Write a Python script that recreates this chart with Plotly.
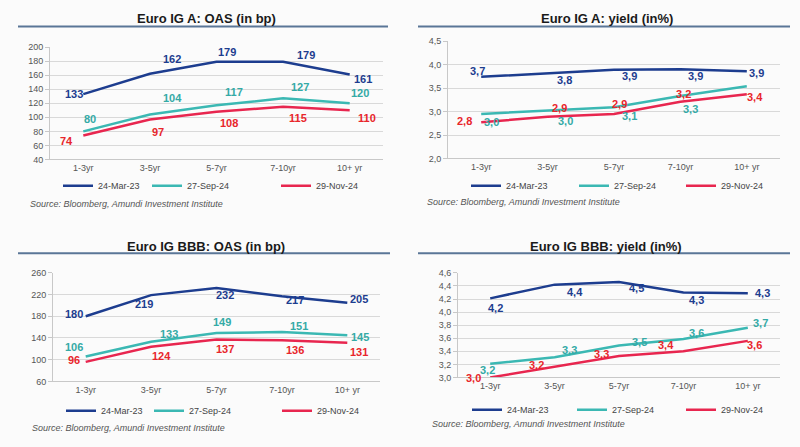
import plotly.graph_objects as go

categories = ["1-3yr", "3-5yr", "5-7yr", "7-10yr", "10+ yr"]
series_names = ["24-Mar-23", "27-Sep-24", "29-Nov-24"]

# Panel 1: Euro IG A OAS (bp)
a_oas_mar23 = [133, 162, 179, 179, 161]
a_oas_sep24 = [80, 104, 117, 127, 120]
a_oas_nov24 = [74, 97, 108, 115, 110]
a_oas_labels = [["133", "162", "179", "179", "161"],
                ["80", "104", "117", "127", "120"],
                ["74", "97", "108", "115", "110"]]

# Panel 2: Euro IG A yield (%)
a_yld_mar23 = [3.74, 3.82, 3.89, 3.90, 3.86]
a_yld_sep24 = [2.95, 3.02, 3.09, 3.33, 3.54]
a_yld_nov24 = [2.77, 2.89, 2.95, 3.21, 3.37]
a_yld_labels = [["3,7", "3,8", "3,9", "3,9", "3,9"],
                ["3,0", "3,0", "3,1", "3,3", ""],
                ["2,8", "2,9", "2,9", "3,2", "3,4"]]

# Panel 3: Euro IG BBB OAS (bp)
b_oas_mar23 = [180, 219, 232, 217, 205]
b_oas_sep24 = [106, 133, 149, 151, 145]
b_oas_nov24 = [96, 124, 137, 136, 131]
b_oas_labels = [["180", "219", "232", "217", "205"],
                ["106", "133", "149", "151", "145"],
                ["96", "124", "137", "136", "131"]]

# Panel 4: Euro IG BBB yield (%)
b_yld_mar23 = [4.21, 4.42, 4.46, 4.30, 4.29]
b_yld_sep24 = [3.21, 3.31, 3.49, 3.59, 3.76]
b_yld_nov24 = [3.00, 3.16, 3.33, 3.40, 3.56]
b_yld_labels = [["4,2", "4,4", "4,5", "4,3", "4,3"],
                ["3,2", "3,3", "3,5", "3,6", "3,7"],
                ["3,0", "3,2", "3,3", "3,4", "3,6"]]

titles = ["Euro IG A: OAS (in bp)", "Euro IG A: yield (in%)",
          "Euro IG BBB: OAS (in bp)", "Euro IG BBB: yield (in%)"]
source_text = "Source: Bloomberg, Amundi Investment Institute"

# ---------------- styling / layout -----------------
W, H = 800, 447
line_colors = ["#1d3d8f", "#3bb8b3", "#e8264f"]
label_colors = ["#1d3d8f", "#34aaa6", "#e8262b"]
BG = "#fbfbfb"
FONT = "Liberation Sans, Arial, sans-serif"

def fx(px):
    return px / W

def fy(py):
    return 1 - py / H

panels = [
    dict(data=[a_oas_mar23, a_oas_sep24, a_oas_nov24], labels=a_oas_labels,
         x0=50, x1=383, ytop=43, ybot=158, yr=[40, 200], dt=20, fmt="d",
         title=(207, 14), ul=(18, 388, 22), src=(28, 204),
         leg=[(64, 185), (153, 185), (282, 185)],
         off=[[(-9, 0), (22, -15), (10, -10), (23, -7), (13, 5)],
              [(7, -12), (23, -16), (17, -13), (17, -11), (10, -10)],
              [(-17, 5), (8, 13), (12, 11), (15, 11), (17, 8)]]),
    dict(data=[a_yld_mar23, a_yld_sep24, a_yld_nov24], labels=a_yld_labels,
         x0=448, x1=780, ytop=37, ybot=157, yr=[2.0, 4.5], dt=0.5, fmt=".1f",
         title=(607, 14), ul=(418, 790, 22), src=(425, 202),
         leg=[(472, 185), (580, 185), (687, 185)],
         off=[[(-4, -6), (17, 7), (15, 6), (15, 7), (10, 2)],
              [(10, 8), (18, 10), (15, 9), (10, 13), (0, 0)],
              [(-17, -1), (12, -9), (5, -10), (3, -8), (8, 3)]]),
    dict(data=[b_oas_mar23, b_oas_sep24, b_oas_nov24], labels=b_oas_labels,
         x0=53, x1=380, ytop=274, ybot=385, yr=[60, 260], dt=40, fmt="d",
         title=(206, 247), ul=(18, 390, 254), src=(30, 433),
         leg=[(67, 415), (155, 415), (283, 415)],
         off=[[(-12, -2), (-7, 9), (8, 7), (13, 4), (12, -4)],
              [(-12, -9), (18, -8), (5, -11), (17, -6), (13, 2)],
              [(-12, -2), (10, 9), (8, 9), (13, 10), (12, 9)]]),
    dict(data=[b_yld_mar23, b_yld_sep24, b_yld_nov24], labels=b_yld_labels,
         x0=458, x1=780, ytop=274, ybot=381, yr=[3.0, 4.6], dt=0.2, fmt=".1f",
         title=(606, 247), ul=(418, 790, 254), src=(430, 429),
         leg=[(473, 414), (578, 414), (687, 414)],
         off=[[(5, 10), (20, 7), (17, 6), (13, 8), (15, 0)],
              [(-3, 6), (15, -7), (20, -3), (13, -6), (13, -5)],
              [(-17, 1), (-18, -2), (-18, -2), (-17, -6), (7, 4)]]),
]

fig = go.Figure()
annotations = []
shapes = []
layout = dict(width=W, height=H, margin=dict(l=0, r=0, t=0, b=0),
              paper_bgcolor=BG, plot_bgcolor=BG, separators=",.",
              font=dict(family=FONT, color="#555555", size=10))

legend_idx = 0
for i, p in enumerate(panels):
    n = i + 1
    xa = "x" if n == 1 else f"x{n}"
    ya = "y" if n == 1 else f"y{n}"
    xkey = "xaxis" if n == 1 else f"xaxis{n}"
    ykey = "yaxis" if n == 1 else f"yaxis{n}"
    layout[xkey] = dict(domain=[fx(p["x0"]), fx(p["x1"])], anchor=ya,
                        type="category", range=[-0.5, 4.5],
                        showline=True, linecolor="#c8c8c8", linewidth=1,
                        showgrid=False, ticks="", fixedrange=True,
                        tickfont=dict(size=9, color="#555555"))
    layout[ykey] = dict(domain=[fy(p["ybot"]), fy(p["ytop"])], anchor=xa,
                        range=p["yr"], dtick=p["dt"], tick0=p["yr"][0],
                        tickformat=p["fmt"], showline=True, linecolor="#c8c8c8",
                        linewidth=1, ticks="outside", ticklen=4, tickcolor="#c8c8c8",
                        showgrid=True, gridcolor="#d9d9d9", gridwidth=1,
                        zeroline=False, fixedrange=True,
                        tickfont=dict(size=9, color="#555555"))
    for s in range(3):
        legend_idx += 1
        lkey = "legend" if legend_idx == 1 else f"legend{legend_idx}"
        lx, ly = p["leg"][s]
        layout[lkey] = dict(x=fx(lx - 6), y=fy(ly), xanchor="left", yanchor="middle",
                            orientation="h", bgcolor="rgba(0,0,0,0)", borderwidth=0,
                            font=dict(size=9, color="#444444"), itemwidth=30,
                            tracegroupgap=0)
        fig.add_trace(go.Scatter(
            x=categories, y=p["data"][s], mode="lines", name=series_names[s],
            line=dict(color=line_colors[s], width=2.5),
            xaxis=xa, yaxis=ya, legend=lkey, showlegend=True, hoverinfo="skip"))
        for k in range(5):
            txt = p["labels"][s][k]
            if not txt:
                continue
            dx, dy = p["off"][s][k]
            annotations.append(dict(
                x=categories[k], y=p["data"][s][k], xref=xa, yref=ya,
                text=f"<b>{txt}</b>", showarrow=False, xshift=dx, yshift=-dy,
                font=dict(size=11, color=label_colors[s], family=FONT)))
    tx, ty = p["title"]
    annotations.append(dict(x=fx(tx), y=fy(ty), xref="paper", yref="paper",
                            text=f"<b>{titles[i]}</b>", showarrow=False,
                            xanchor="center", yanchor="middle",
                            font=dict(size=13, color="#1a1a1a", family=FONT)))
    ux0, ux1, uy = p["ul"]
    shapes.append(dict(type="line", xref="paper", yref="paper",
                       x0=fx(ux0), x1=fx(ux1), y0=fy(uy), y1=fy(uy),
                       line=dict(color="#5a7697", width=2)))
    sx, sy = p["src"]
    annotations.append(dict(x=fx(sx), y=fy(sy), xref="paper", yref="paper",
                            text=f"<i>{source_text}</i>", showarrow=False,
                            xanchor="left", yanchor="middle",
                            font=dict(size=9, color="#555555", family=FONT)))

layout["annotations"] = annotations
layout["shapes"] = shapes
fig.update_layout(**layout)
fig.write_html("out.html", config={"displayModeBar": False},
               post_script="document.body.style.margin='0';document.body.style.background='%s';" % BG)
